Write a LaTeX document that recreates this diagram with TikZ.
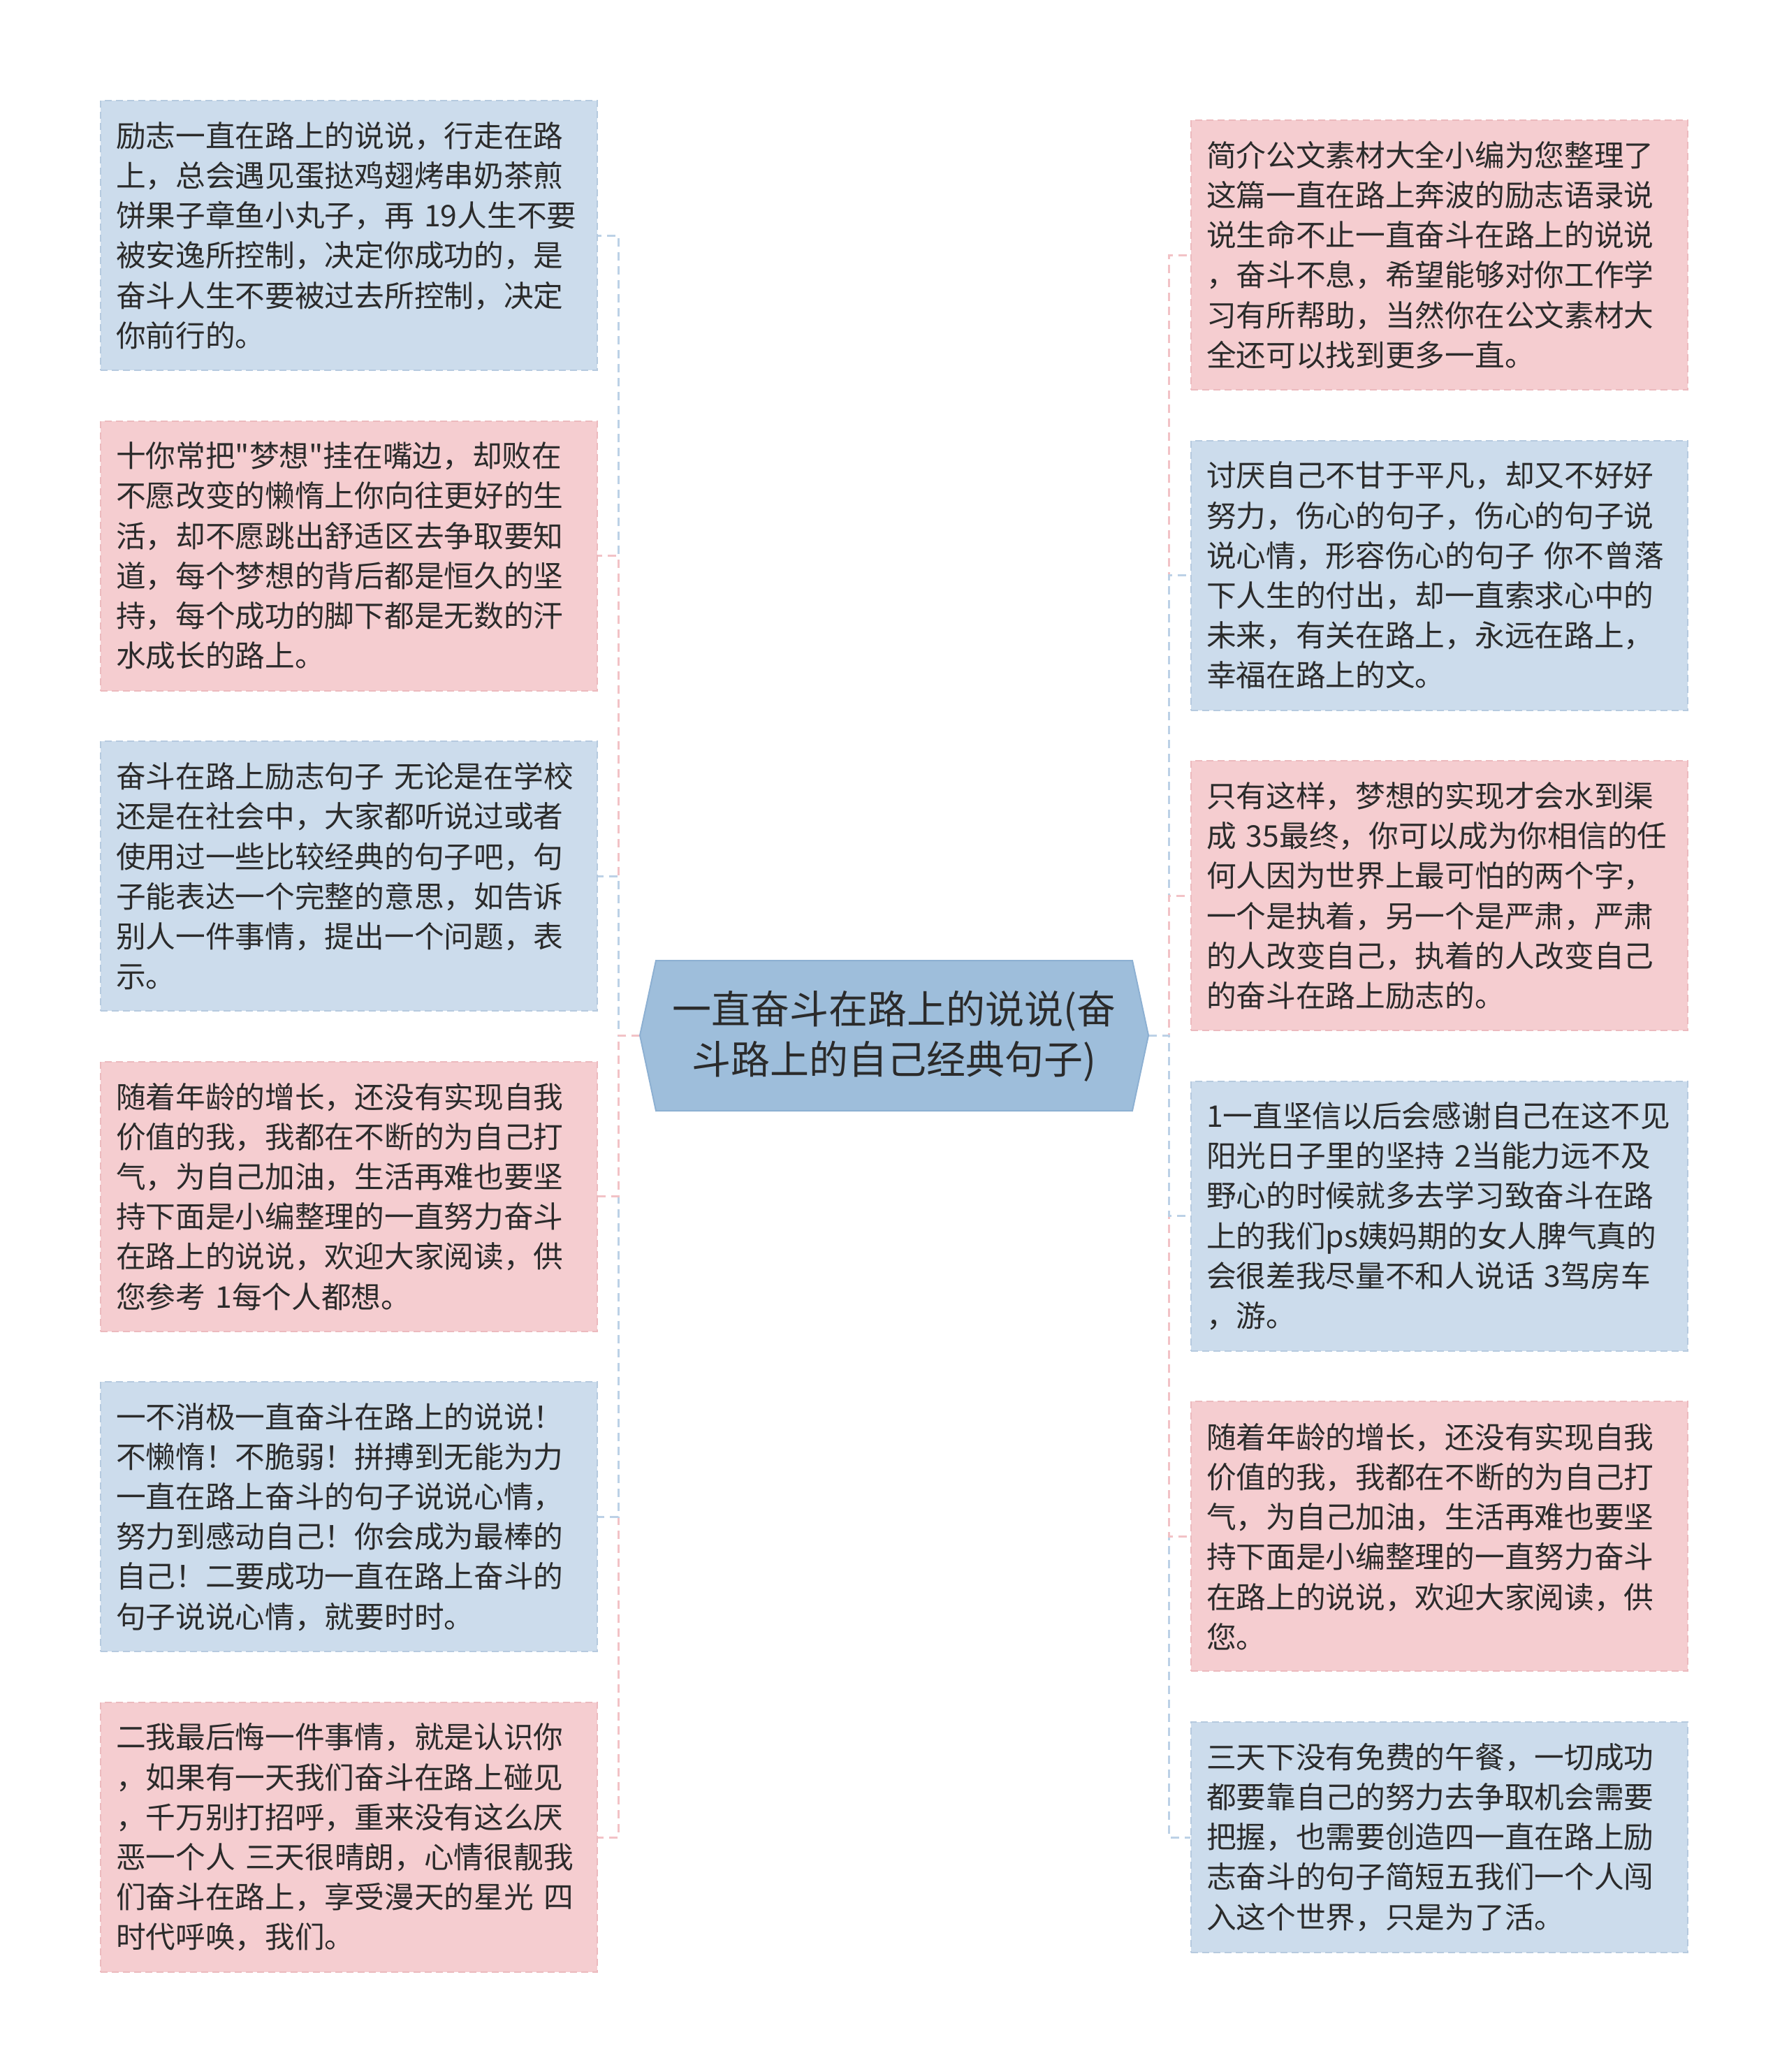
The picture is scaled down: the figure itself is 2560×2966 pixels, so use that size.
\documentclass[tikz,border=0pt]{standalone}
\usepackage{fontspec}
\setmainfont{Noto Sans CJK SC}
\newfontfamily\cjktext{Noto Sans CJK SC}
\usetikzlibrary{calc}
\definecolor{bluefill}{HTML}{CCDCEC}
\definecolor{pinkfill}{HTML}{F5CDD0}
\definecolor{blueline}{HTML}{BCD1E6}
\definecolor{pinkline}{HTML}{F2C2C6}
\definecolor{blueedge}{HTML}{B6CADF}
\definecolor{pinkedge}{HTML}{ECBABE}
\definecolor{centerfill}{HTML}{9EBEDB}
\definecolor{centeredge}{HTML}{8DB0D2}
\definecolor{txt}{HTML}{2B2B2B}
\begin{document}
\begin{tikzpicture}[x=1pt,y=-1pt,
 leaf/.style={rectangle, minimum width=711pt, minimum height=386pt, text width=667pt,
   inner xsep=22pt, inner ysep=0pt, align=left, font=\cjktext\fontsize{42.7}{57.2}\selectfont,
   text=txt, line width=2pt, dash pattern=on 10pt off 6pt},
 shortleaf/.style={minimum height=330pt},
 blueleaf/.style={leaf, fill=bluefill, draw=blueedge},
 pinkleaf/.style={leaf, fill=pinkfill, draw=pinkedge},
 link/.style={line width=3pt, dash pattern=on 12pt off 8pt},
 bluelink/.style={link, draw=blueline},
 pinklink/.style={link, draw=pinkline},
 hub/.style={align=center, text=txt, font=\cjktext\fontsize{56}{72}\selectfont, inner sep=0pt},
]
\useasboundingbox (0,0) rectangle (2560,2966);

% hub tips
\coordinate (cl) at (916,1482);
\coordinate (cr) at (1644,1482);

% leaves (left)
\node[blueleaf] (L1) at (499.5,337) {励志一直在路上的说说，行走在路\\上，总会遇见蛋挞鸡翅烤串奶茶煎\\饼果子章鱼小丸子，再~19人生不要\\被安逸所控制，决定你成功的，是\\奋斗人生不要被过去所控制，决定\\你前行的。};
\node[pinkleaf] (L2) at (499.5,795.6) {十你常把"梦想"挂在嘴边，却败在\\不愿改变的懒惰上你向往更好的生\\活，却不愿跳出舒适区去争取要知\\道，每个梦想的背后都是恒久的坚\\持，每个成功的脚下都是无数的汗\\水成长的路上。};
\node[blueleaf] (L3) at (499.5,1254.2) {奋斗在路上励志句子~无论是在学校\\还是在社会中，大家都听说过或者\\使用过一些比较经典的句子吧，句\\子能表达一个完整的意思，如告诉\\别人一件事情，提出一个问题，表\\示。};
\node[pinkleaf] (L4) at (499.5,1712.8) {随着年龄的增长，还没有实现自我\\价值的我，我都在不断的为自己打\\气，为自己加油，生活再难也要坚\\持下面是小编整理的一直努力奋斗\\在路上的说说，欢迎大家阅读，供\\您参考~1每个人都想。};
\node[blueleaf] (L5) at (499.5,2171.4) {一不消极一直奋斗在路上的说说！\\不懒惰！不脆弱！拼搏到无能为力\\一直在路上奋斗的句子说说心情，\\努力到感动自己！你会成为最棒的\\自己！二要成功一直在路上奋斗的\\句子说说心情，就要时时。};
\node[pinkleaf] (L6) at (499.5,2630) {二我最后悔一件事情，就是认识你\\，如果有一天我们奋斗在路上碰见\\，千万别打招呼，重来没有这么厌\\恶一个人~三天很晴朗，心情很靓我\\们奋斗在路上，享受漫天的星光~四\\时代呼唤，我们。};

% leaves (right)
\node[pinkleaf] (R1) at (2060.5,365) {简介公文素材大全小编为您整理了\\这篇一直在路上奔波的励志语录说\\说生命不止一直奋斗在路上的说说\\，奋斗不息，希望能够对你工作学\\习有所帮助，当然你在公文素材大\\全还可以找到更多一直。};
\node[blueleaf] (R2) at (2060.5,823.6) {讨厌自己不甘于平凡，却又不好好\\努力，伤心的句子，伤心的句子说\\说心情，形容伤心的句子~你不曾落\\下人生的付出，却一直索求心中的\\未来，有关在路上，永远在路上，\\幸福在路上的文。};
\node[pinkleaf] (R3) at (2060.5,1282.2) {只有这样，梦想的实现才会水到渠\\成~35最终，你可以成为你相信的任\\何人因为世界上最可怕的两个字，\\一个是执着，另一个是严肃，严肃\\的人改变自己，执着的人改变自己\\的奋斗在路上励志的。};
\node[blueleaf] (R4) at (2060.5,1740.8) {1一直坚信以后会感谢自己在这不见\\阳光日子里的坚持~2当能力远不及\\野心的时候就多去学习致奋斗在路\\上的我们ps姨妈期的女人脾气真的\\会很差我尽量不和人说话~3驾房车\\，游。};
\node[pinkleaf] (R5) at (2060.5,2199.4) {随着年龄的增长，还没有实现自我\\价值的我，我都在不断的为自己打\\气，为自己加油，生活再难也要坚\\持下面是小编整理的一直努力奋斗\\在路上的说说，欢迎大家阅读，供\\您。};
\node[blueleaf, shortleaf] (R6) at (2060.5,2630) {三天下没有免费的午餐，一切成功\\都要靠自己的努力去争取机会需要\\把握，也需要创造四一直在路上励\\志奋斗的句子简短五我们一个人闯\\入这个世界，只是为了活。};

% connectors (outer ones first so the nearer ones lie on top)
\draw[bluelink] (cl) -- ++(-31,0) |- (L1.east);
\draw[pinklink] (cl) -- ++(-31,0) |- (L2.east);
\draw[bluelink] (cl) -- ++(-31,0) |- (L3.east);
\draw[pinklink] (cl) -- ++(-31,0) |- (L6.east);
\draw[bluelink] (cl) -- ++(-31,0) |- (L5.east);
\draw[pinklink] (cl) -- ++(-31,0) |- (L4.east);

\draw[pinklink] (cr) -- ++(29,0) |- (R1.west);
\draw[bluelink] (cr) -- ++(29,0) |- (R2.west);
\draw[pinklink] (cr) -- ++(29,0) |- (R3.west);
\draw[bluelink] (cr) -- ++(29,0) |- (R6.west);
\draw[pinklink] (cr) -- ++(29,0) |- (R5.west);
\draw[bluelink] (cr) -- ++(29,0) |- (R4.west);

% hub
\draw[fill=centerfill, draw=centeredge, line width=2pt]
  (939,1375) -- (cl) -- (939,1590) -- (1621,1590) -- (cr) -- (1621,1375) -- cycle;
\node[hub] (hubtext) at (1280,1483) {一直奋斗在路上的说说(奋\\斗路上的自己经典句子)};
\end{tikzpicture}
\end{document}
